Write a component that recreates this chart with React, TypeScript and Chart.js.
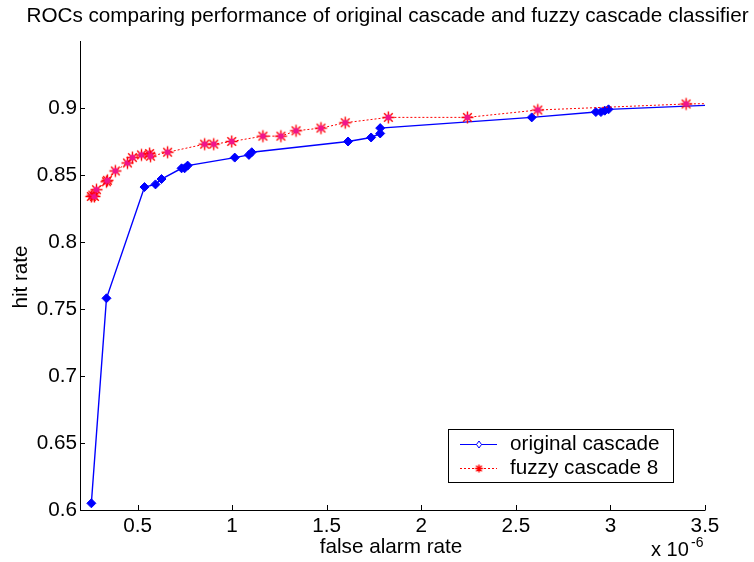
import React, { useEffect, useRef } from "react";
import { Chart, registerables } from "chart.js";

Chart.register(...registerables);

// ---- data (false alarm rate in units of 1e-6, hit rate) ----
const originalX = [0.256, 0.336, 0.537, 0.595, 0.627, 0.733, 0.749, 0.765, 1.014, 1.089, 1.104, 1.613, 1.735, 1.783, 1.783, 2.584, 2.923, 2.95, 2.97, 2.99, 3.6];
const originalY = [0.605, 0.758, 0.841, 0.843, 0.847, 0.855, 0.855, 0.857, 0.863, 0.865, 0.867, 0.875, 0.878, 0.881, 0.885, 0.893, 0.897, 0.897, 0.898, 0.899, 0.9025];

const fuzzyX = [0.256, 0.264, 0.272, 0.283, 0.336, 0.341, 0.383, 0.447, 0.473, 0.521, 0.564, 0.569, 0.659, 0.855, 0.903, 0.998, 1.163, 1.258, 1.338, 1.47, 1.598, 1.826, 2.244, 2.616, 3.4, 3.6];
const fuzzyY = [0.834, 0.835, 0.834, 0.839, 0.845, 0.846, 0.853, 0.859, 0.863, 0.865, 0.866, 0.864, 0.867, 0.873, 0.873, 0.875, 0.879, 0.879, 0.883, 0.885, 0.889, 0.893, 0.893, 0.8985, 0.903, 0.9035];

const xTicks = [0.5, 1, 1.5, 2, 2.5, 3, 3.5];
const yTicks = [0.6, 0.65, 0.7, 0.75, 0.8, 0.85, 0.9];

const titleText = "ROCs comparing performance of original cascade and fuzzy cascade classifier";
const xLabel = "false alarm rate";
const yLabel = "hit rate";
const xExponentBase = "x 10";
const xExponent = "-6";
const legendLabels = ["original cascade", "fuzzy cascade 8"];

const FONT = "'Liberation Sans', Arial, Helvetica, sans-serif";
const FS = 20.7;

function fmt(v: number): string {
  return String(parseFloat(Number(v).toFixed(2)));
}

function makeStar(withFill: boolean, r: number): HTMLCanvasElement {
  const size = Math.ceil(r * 2 + 3);
  const c = document.createElement("canvas");
  c.width = size;
  c.height = size;
  const g = c.getContext("2d")!;
  const cx = size / 2;
  const cy = size / 2;
  g.strokeStyle = "#ff0000";
  g.lineWidth = 1.4;
  g.beginPath();
  g.moveTo(cx - r, cy);
  g.lineTo(cx + r, cy);
  g.moveTo(cx, cy - r);
  g.lineTo(cx, cy + r);
  const d = r * 0.72;
  g.moveTo(cx - d, cy - d);
  g.lineTo(cx + d, cy + d);
  g.moveTo(cx - d, cy + d);
  g.lineTo(cx + d, cy - d);
  g.stroke();
  if (withFill) {
    g.fillStyle = "rgb(240,20,140)";
    g.beginPath();
    g.arc(cx, cy, r * 0.5, 0, Math.PI * 2);
    g.fill();
  }
  return c;
}

export default function App() {
  const ref = useRef<HTMLCanvasElement | null>(null);

  useEffect(() => {
    const canvas = ref.current;
    if (!canvas) return;
    const star = makeStar(true, 6);
    const legendStar = makeStar(false, 4);

    const decor = {
      id: "matlabDecor",
      afterDraw(chart: any) {
        const ctx: CanvasRenderingContext2D = chart.ctx;
        const a = chart.chartArea;
        const xs = chart.scales.x;
        const ys = chart.scales.y;
        ctx.save();
        // axes lines
        ctx.strokeStyle = "#000";
        ctx.lineWidth = 1;
        ctx.beginPath();
        ctx.moveTo(Math.round(a.left) + 0.5, Math.round(a.top));
        ctx.lineTo(Math.round(a.left) + 0.5, Math.round(a.bottom) + 0.5);
        ctx.lineTo(Math.round(a.right) + 0.5, Math.round(a.bottom) + 0.5);
        ctx.stroke();
        // inward ticks
        ctx.beginPath();
        for (const v of xTicks) {
          const px = Math.round(xs.getPixelForValue(v)) + 0.5;
          ctx.moveTo(px, Math.round(a.bottom));
          ctx.lineTo(px, Math.round(a.bottom) - 5);
        }
        for (const v of yTicks) {
          const py = Math.round(ys.getPixelForValue(v)) + 0.5;
          ctx.moveTo(Math.round(a.left), py);
          ctx.lineTo(Math.round(a.left) + 5, py);
        }
        ctx.stroke();

        ctx.fillStyle = "#000";
        // title
        ctx.font = `${FS}px ${FONT}`;
        ctx.textAlign = "center";
        ctx.textBaseline = "alphabetic";
        ctx.fillText(titleText, 387.5, 22);
        // x label
        ctx.fillText(xLabel, 391, 553);
        // y label
        ctx.save();
        ctx.translate(27, 277);
        ctx.rotate(-Math.PI / 2);
        ctx.fillText(yLabel, 0, 0);
        ctx.restore();
        // exponent
        ctx.textAlign = "left";
        ctx.font = `20px ${FONT}`;
        ctx.fillText(xExponentBase, 651, 556);
        ctx.font = `14px ${FONT}`;
        ctx.fillText(xExponent, 691, 547);

        // legend
        const lx = 448.5, ly = 429.5, lw = 225, lh = 53;
        ctx.fillStyle = "#fff";
        ctx.fillRect(lx, ly, lw, lh);
        ctx.strokeStyle = "#000";
        ctx.lineWidth = 1;
        ctx.strokeRect(lx, ly, lw, lh);
        const r1 = 444.5, r2 = 468.5;
        // row 1
        ctx.strokeStyle = "#0000ff";
        ctx.beginPath();
        ctx.moveTo(460, r1);
        ctx.lineTo(497, r1);
        ctx.stroke();
        ctx.beginPath();
        ctx.moveTo(479, r1 - 3.5);
        ctx.lineTo(481.5, r1);
        ctx.lineTo(479, r1 + 3.5);
        ctx.lineTo(476.5, r1);
        ctx.closePath();
        ctx.fillStyle = "#fff";
        ctx.fill();
        ctx.stroke();
        // row 2
        ctx.strokeStyle = "#ff0000";
        ctx.setLineDash([2, 2]);
        ctx.beginPath();
        ctx.moveTo(460, r2);
        ctx.lineTo(497, r2);
        ctx.stroke();
        ctx.setLineDash([]);
        ctx.drawImage(legendStar, 479 - legendStar.width / 2, r2 - legendStar.height / 2);
        // texts
        ctx.fillStyle = "#000";
        ctx.font = `${FS}px ${FONT}`;
        ctx.textBaseline = "middle";
        ctx.textAlign = "left";
        ctx.fillText(legendLabels[0], 510, r1 - 0.5);
        ctx.fillText(legendLabels[1], 510, r2 - 0.5);
        ctx.restore();
      },
    };

    const chart = new Chart(canvas, {
      type: "scatter",
      data: {
        datasets: [
          {
            label: legendLabels[0],
            data: originalX.map((x, i) => ({ x, y: originalY[i] })),
            showLine: true,
            borderColor: "#0000ff",
            backgroundColor: "#0000ff",
            borderWidth: 1.4,
            pointStyle: "rectRot",
            pointRadius: 4.5,
            pointBorderWidth: 1,
            pointBorderColor: "#0000ff",
            pointBackgroundColor: "#0000ff",
            tension: 0,
            order: 2,
          } as any,
          {
            label: legendLabels[1],
            data: fuzzyX.map((x, i) => ({ x, y: fuzzyY[i] })),
            showLine: true,
            borderColor: "#ff0000",
            backgroundColor: "#ff0000",
            borderWidth: 1,
            borderDash: [2, 2],
            pointStyle: star,
            pointRadius: 6,
            tension: 0,
            order: 1,
          } as any,
        ],
      },
      options: {
        animation: false,
        responsive: false,
        maintainAspectRatio: false,
        events: [],
        layout: { padding: { top: 41, right: 49, left: 0, bottom: 0 } },
        plugins: {
          legend: { display: false },
          tooltip: { enabled: false },
          title: { display: false },
        },
        scales: {
          x: {
            type: "linear",
            min: 0.196,
            max: 3.5,
            afterBuildTicks: (s: any) => {
              s.ticks = xTicks.map((v) => ({ value: v }));
            },
            afterFit: (s: any) => {
              s.height = 52;
            },
            grid: { display: false, drawTicks: false },
            border: { display: false },
            ticks: {
              color: "#000",
              font: { family: FONT, size: FS },
              padding: 4,
              maxRotation: 0,
              autoSkip: false,
              callback: (v: any) => fmt(v),
            },
          },
          y: {
            type: "linear",
            min: 0.6,
            max: 0.95,
            afterBuildTicks: (s: any) => {
              s.ticks = yTicks.map((v) => ({ value: v }));
            },
            afterFit: (s: any) => {
              s.width = 80;
            },
            grid: { display: false, drawTicks: false },
            border: { display: false },
            ticks: {
              color: "#000",
              font: { family: FONT, size: FS },
              padding: 3,
              autoSkip: false,
              callback: (v: any) => fmt(v),
            },
          },
        },
      } as any,
      plugins: [decor],
    });

    return () => chart.destroy();
  }, []);

  return (
    <div style={{ position: "fixed", left: 0, top: 0, width: 754, height: 562, background: "#fff" }}>
      <canvas ref={ref} width={754} height={562} style={{ display: "block", width: 754, height: 562 }} />
    </div>
  );
}
